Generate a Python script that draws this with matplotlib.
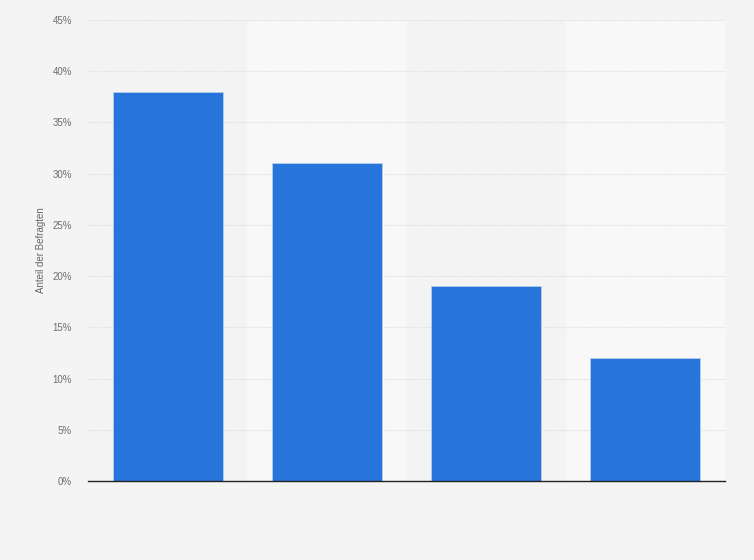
import numpy as np
import matplotlib.pyplot as plt

plt.rcParams['font.family'] = ['Liberation Sans', 'DejaVu Sans']

# values
categories = ["", "", "", ""]
shares = [38, 31, 19, 12]
yticks = [0, 5, 10, 15, 20, 25, 30, 35, 40, 45]

fig = plt.figure(figsize=(7.54, 5.60), dpi=100)
fig.patch.set_facecolor("#f4f4f4")
ax = fig.add_axes([88/754, 1-481/560, (725-88)/754, (481-20)/560])
ax.set_facecolor("#f3f3f3")

x = np.arange(len(shares))
# alternating column bands
for i in x:
    if i % 2 == 1:
        ax.axvspan(i-0.5, i+0.5, color="#f8f8f8", zorder=0, lw=0)

ax.bar(x, shares, width=0.69, color="#2775da", edgecolor="#b8cdea", linewidth=0.6, zorder=3)

ax.set_xlim(-0.5, len(shares)-0.5)
ax.set_ylim(0, 45)
ax.set_yticks(yticks)
ax.set_yticklabels([f"{t}%" for t in yticks], color="#6e6e6e", fontsize=7)
ax.set_xticks(x)
ax.set_xticklabels(categories)
ax.tick_params(axis="both", length=0)
ax.tick_params(axis="y", pad=11.5)
ax.yaxis.grid(True, color="#dedede", linestyle=(0, (1, 1)), linewidth=0.8, zorder=1)
ax.set_axisbelow(True)

for s in ["top", "right", "left"]:
    ax.spines[s].set_visible(False)
ax.spines["bottom"].set_color("#222222")
ax.spines["bottom"].set_linewidth(1.0)
ax.spines["bottom"].set_zorder(4)

ax.set_ylabel("Anteil der Befragten", color="#666666", fontsize=7)
ax.yaxis.set_label_coords((46-88)/637, 0.5)

fig.savefig("out.png", dpi=100, facecolor=fig.get_facecolor())
